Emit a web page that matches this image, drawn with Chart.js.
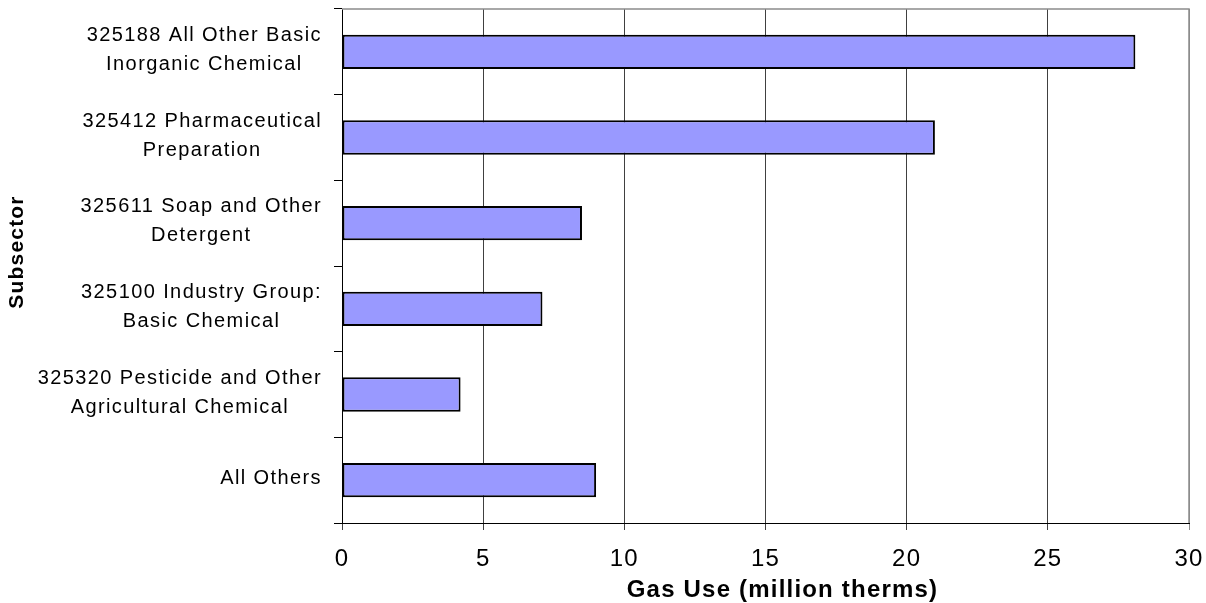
<!DOCTYPE html>
<html>
<head>
<meta charset="utf-8">
<script src="https://cdn.jsdelivr.net/npm/chart.js@4/dist/chart.umd.min.js"></script>
<style>
  html, body { margin: 0; padding: 0; background: #fff; }
  #wrap { width: 1206px; height: 603px; }
</style>
</head>
<body>
<div id="wrap"><canvas id="chart" width="1206" height="603"></canvas></div>
<script>
// Subsector labels (each an array of lines)
const categories = [
  ["325188 All Other Basic", "Inorganic Chemical"],
  ["325412 Pharmaceutical", "Preparation"],
  ["325611 Soap and Other", "Detergent"],
  ["325100 Industry Group:", "Basic Chemical"],
  ["325320 Pesticide and Other", "Agricultural Chemical"],
  ["All Others"]
];
// Natural gas use, million therms
const gasUse = [28.1, 21.0, 8.5, 7.1, 4.2, 9.0];
const xTicks = [0, 5, 10, 15, 20, 25, 30];
const xTitle = 'Gas Use (million therms)';
const yTitle = 'Subsector';

const FONT = '"Liberation Sans", Arial, sans-serif';

function setSpacing(ctx, px) {
  if ('letterSpacing' in ctx) ctx.letterSpacing = px + 'px';
}

// Draws the gray top/right frame of the plot area
const plotFrame = {
  id: 'plotFrame',
  beforeDatasetsDraw(chart) {
    const { ctx, chartArea: a } = chart;
    ctx.save();
    ctx.strokeStyle = '#8c8c8c';
    ctx.lineWidth = 1.5;
    ctx.beginPath();
    ctx.moveTo(a.left, a.top);
    ctx.lineTo(a.right, a.top);
    ctx.lineTo(a.right, a.bottom);
    ctx.stroke();
    ctx.restore();
  }
};

// Category labels (block right-aligned against the axis, lines centred) and axis titles
const axisText = {
  id: 'axisText',
  afterDraw(chart) {
    const { ctx, chartArea: a } = chart;
    const y = chart.scales.y;
    ctx.save();
    ctx.fillStyle = '#000';
    ctx.textAlign = 'center';
    ctx.textBaseline = 'middle';

    ctx.font = '20px ' + FONT;
    setSpacing(ctx, 1.4);
    const rightEdge = 322;
    const lineGap = 29;
    categories.forEach((lines, i) => {
      const cy = y.getPixelForTick(i) - 2;
      const maxW = Math.max(...lines.map(l => ctx.measureText(l).width));
      const cx = rightEdge - maxW / 2;
      lines.forEach((line, j) => {
        ctx.fillText(line, cx, cy + (j - (lines.length - 1) / 2) * lineGap);
      });
    });

    // horizontal axis title
    ctx.font = 'bold 24px ' + FONT;
    setSpacing(ctx, 1.2);
    ctx.fillText(xTitle, (a.left + a.right) / 2 + 17, 590);

    // vertical axis title
    ctx.font = 'bold 21px ' + FONT;
    setSpacing(ctx, 1.2);
    ctx.translate(17.5, (a.top + a.bottom) / 2 - 14);
    ctx.rotate(-Math.PI / 2);
    ctx.fillText(yTitle, 0, 0);
    ctx.restore();
    setSpacing(ctx, 0);
  }
};

// Slightly wider letter spacing for tick labels
const tickSpacing = {
  id: 'tickSpacing',
  beforeDraw(chart) { setSpacing(chart.ctx, 1.2); },
  afterDraw(chart) { setSpacing(chart.ctx, 0); }
};

new Chart(document.getElementById('chart'), {
  type: 'bar',
  data: {
    labels: categories,
    datasets: [{
      data: gasUse,
      backgroundColor: '#9999ff',
      borderColor: '#000000',
      borderWidth: 2,
      borderSkipped: false,
      barPercentage: 0.4,
      categoryPercentage: 1.0
    }]
  },
  options: {
    indexAxis: 'y',
    responsive: false,
    animation: false,
    devicePixelRatio: 1,
    layout: { padding: { left: 0, right: 17, top: 9, bottom: 0 } },
    plugins: {
      legend: { display: false },
      tooltip: { enabled: false }
    },
    scales: {
      x: {
        type: 'linear',
        min: xTicks[0],
        max: xTicks[xTicks.length - 1],
        afterBuildTicks(scale) {
          scale.ticks = xTicks.map(v => ({ value: v }));
        },
        afterFit(scale) {
          scale.height = 80;
          scale.paddingLeft = 0;
          scale.paddingRight = 0;
        },
        ticks: {
          color: '#000',
          font: { family: FONT, size: 24 },
          padding: 15
        },
        grid: {
          drawOnChartArea: true,
          color: c => (c.tick && c.tick.value === 30) ? '#8c8c8c' : '#404040',
          lineWidth: 1,
          tickLength: 7
        },
        border: { color: '#000', width: 1 },
        title: { display: false }
      },
      y: {
        type: 'category',
        afterFit(scale) { scale.width = 342; },
        ticks: { display: false },
        grid: {
          offset: true,
          drawOnChartArea: false,
          drawTicks: true,
          tickLength: 8,
          color: '#000',
          lineWidth: 1
        },
        border: { color: '#000', width: 1 },
        title: { display: false }
      }
    }
  },
  plugins: [tickSpacing, plotFrame, axisText]
});
</script>
</body>
</html>
